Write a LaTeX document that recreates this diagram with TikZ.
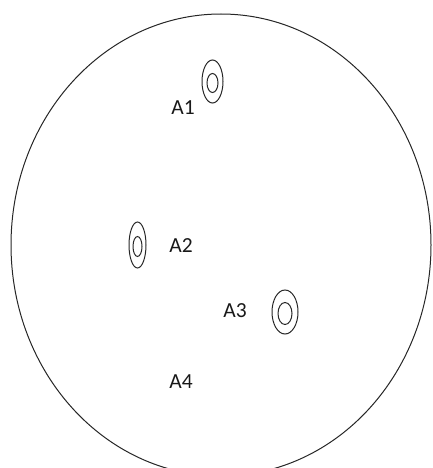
\documentclass[tikz,border=0pt]{standalone}
\usepackage{fontspec}
\setmainfont{Carlito}
\usetikzlibrary{positioning}

\tikzset{
  lbl/.style={inner sep=0pt, font=\fontsize{21.5}{26}\selectfont, black!90},
  ring/.style={line width=1pt, black!85}
}

\begin{document}
\begin{tikzpicture}[x=1pt, y=-1pt]
  \useasboundingbox (0,0) rectangle (432,468);

  % Outer boundary (cut off at the bottom)
  \begin{scope}
    \clip (0,0) rectangle (432,468);
    \draw[ring] (221,245) ellipse (210pt and 231pt);
  \end{scope}

  % Double rings
  \foreach \n/\cx/\cy/\ax/\ay/\bx/\by in {r1/212.5/81.5/10.5/21.5/5.5/9.5,
                                          r2/137.5/245/8.5/23/4.5/10,
                                          r3/285/312/13/22/7/11}
    {
      \coordinate (\n) at (\cx,\cy);
      \draw[ring] (\n) ellipse (\ax pt and \ay pt);
      \draw[ring] ([yshift=-1.5pt]\n) ellipse (\bx pt and \by pt);
    }

  % Labels
  \node[lbl] (a1) at (183,108) {A1};
  \node[lbl] (a2) at (181,246) {A2};
  \node[lbl] (a3) at (235,311) {A3};
  \node[lbl] (a4) at (181,382) {A4};
\end{tikzpicture}
\end{document}
